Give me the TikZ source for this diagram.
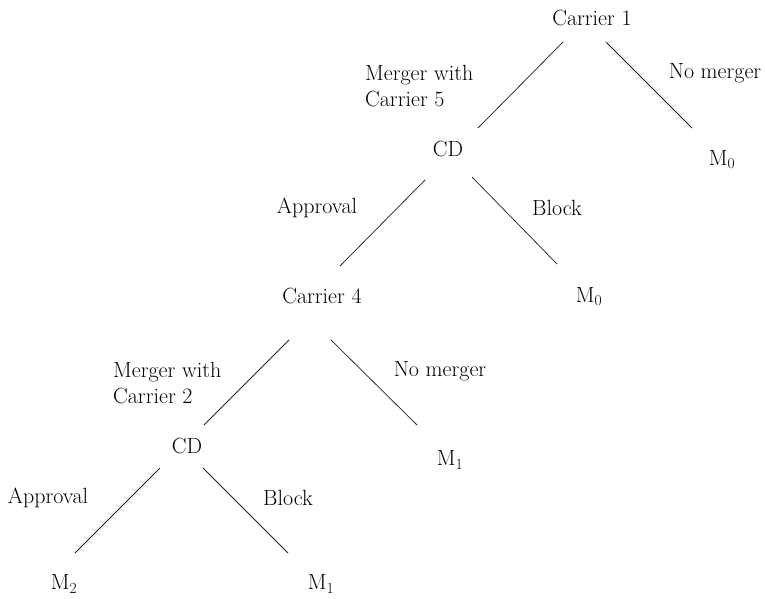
\documentclass[tikz,border=0pt]{standalone}
\begin{document}
\begin{tikzpicture}[x=1pt,y=-1pt,
  lbl/.style={inner sep=0pt,font=\fontsize{22}{26}\selectfont},
  ml/.style={lbl,align=left,anchor=west},
  edge/.style={line width=0.75pt,draw=black!85}]
\useasboundingbox (0,0) rectangle (765,599);
% nodes
\node[lbl] (c1) at (592,18) {Carrier 1};
\node[ml] (lm5) at (365,86) {Merger with\\Carrier 5};
\node[lbl] (nm1) at (715,73) {No merger};
\node[lbl] (cd1) at (448,149) {CD};
\node[lbl] (m0a) at (722,160) {M\textsubscript{0}};
\node[lbl] (ap1) at (317,208) {Approval};
\node[lbl] (bl1) at (557,208) {Block};
\node[lbl] (c4) at (322,296) {Carrier 4};
\node[lbl] (m0b) at (589,297) {M\textsubscript{0}};
\node[ml] (lm2) at (113,383) {Merger with\\Carrier 2};
\node[lbl] (nm2) at (440,371) {No merger};
\node[lbl] (cd2) at (187,446) {CD};
\node[lbl] (m1a) at (450,460) {M\textsubscript{1}};
\node[lbl] (ap2) at (48,498) {Approval};
\node[lbl] (bl2) at (288,498) {Block};
\node[lbl] (m2) at (64,584) {M\textsubscript{2}};
\node[lbl] (m1b) at (321,584) {M\textsubscript{1}};
% connector end points
\coordinate (c1l) at (563,42); \coordinate (cd1t) at (478,128);
\coordinate (c1r) at (606,42); \coordinate (m0at) at (692,128);
\coordinate (cd1l) at (425,180); \coordinate (c4t) at (340,266);
\coordinate (cd1r) at (472,177); \coordinate (m0bt) at (557,264);
\coordinate (c4l) at (289,340); \coordinate (cd2t) at (204,425);
\coordinate (c4r) at (331,340); \coordinate (m1at) at (417,425);
\coordinate (cd2l) at (160,468); \coordinate (m2t) at (75,553);
\coordinate (cd2r) at (203,468); \coordinate (m1bt) at (288,553);
% connectors
\draw[edge] (c1l) -- (cd1t);
\draw[edge] (c1r) -- (m0at);
\draw[edge] (cd1l) -- (c4t);
\draw[edge] (cd1r) -- (m0bt);
\draw[edge] (c4l) -- (cd2t);
\draw[edge] (c4r) -- (m1at);
\draw[edge] (cd2l) -- (m2t);
\draw[edge] (cd2r) -- (m1bt);
\end{tikzpicture}
\end{document}
